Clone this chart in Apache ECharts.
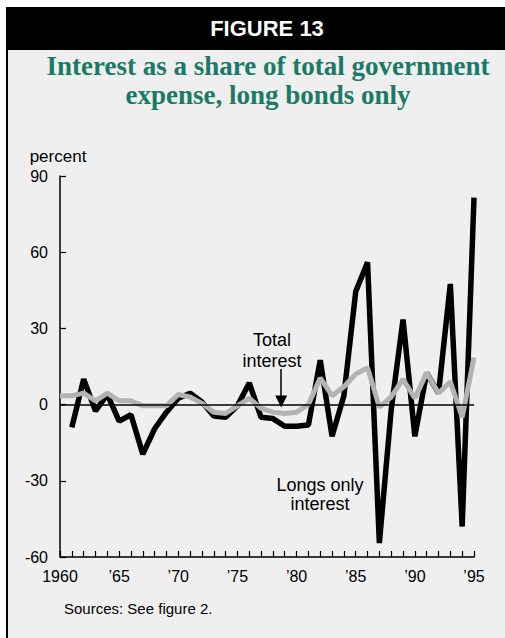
<!DOCTYPE html>
<html>
<head>
<meta charset="utf-8">
<script src="https://cdn.jsdelivr.net/npm/echarts@6/dist/echarts.min.js"></script>
<style>
html,body{margin:0;padding:0;background:#fff;}
#box{position:absolute;left:6px;top:7px;width:499px;height:631px;background:#efefef;border-left:2px solid #000;box-sizing:border-box;}
#c{position:absolute;left:0;top:0;width:505px;height:638px;}
</style>
</head>
<body>
<div id="box"></div>
<div id="c"></div>
<script>
// ---- data ----
const years = [1960,1961,1962,1963,1964,1965,1966,1967,1968,1969,
               1970,1971,1972,1973,1974,1975,1976,1977,1978,1979,
               1980,1981,1982,1983,1984,1985,1986,1987,1988,1989,
               1990,1991,1992,1993,1994,1995];
// Longs only interest (starts 1961)
const longsOnly = [null,-9,10,-2.5,4,-6.5,-4,-19.5,-9.5,-3,
                   2.5,4.5,1,-4.5,-5,-0.5,8.5,-5,-5.5,-8.5,
                   -8.5,-8,17.5,-12.5,3.5,44.5,56,-54.5,-2,33.5,
                   -12.5,12.5,4.5,47.5,-48,81.5];
// Total interest
const totalInterest = [3.5,3.5,4.5,1.5,4.5,1.5,1.5,-0.5,-0.5,-0.5,
                       4,3,0.5,-3,-3.5,-0.5,2.5,-1.5,-3,-3.5,
                       -3,0,10.5,3.5,7,12,14.5,-1,3,10,
                       2.5,12.5,4.5,9,-5,18.5];
const xTickValues = [1960,1965,1970,1975,1980,1985,1990,1995];
const xTickLabels = ['1960','\u201965','\u201970','\u201975','\u201980','\u201985','\u201990','\u201995'];
const titleLines = ['Interest as a share of total government','expense, long bonds only'];
const figureLabel = 'FIGURE 13';
const yAxisName = 'percent';
const sourceNote = 'Sources: See figure 2.';
const annTotal = ['Total','interest'];
const annLongs = ['Longs only','interest'];
const arrowX = 1978.7, arrowFrom = 14, arrowTo = 1.2;

// ---- chart ----
const chart = echarts.init(document.getElementById('c'), null, {renderer:'svg'});
const sans = '"Liberation Sans", Arial, Helvetica, sans-serif';
const pair = arr => years.map((y,i) => [y, arr[i]]);

chart.setOption({
  backgroundColor: 'transparent',
  animation: false,
  title: {
    text: titleLines.join('\n'),
    left: 268, top: 51, textAlign: 'center', padding: 0,
    textStyle: {fontFamily:'"Liberation Serif", "Times New Roman", serif', fontWeight:'bold',
                fontSize:27, color:'#1b7a66', lineHeight:29}
  },
  grid: {left:60, right:31, top:176, bottom:81, containLabel:false},
  xAxis: {
    type:'value', min:1960, max:1995, interval:1,
    axisLine:{show:true, onZero:false, lineStyle:{color:'#000', width:1.5}},
    axisTick:{show:true, inside:true, length:6, lineStyle:{color:'#000', width:1.2}},
    axisLabel:{
      color:'#000', fontSize:16, fontFamily:sans, margin:11, hideOverlap:false,
      formatter: v => { const i = xTickValues.indexOf(v); return i >= 0 ? xTickLabels[i] : ''; }
    },
    splitLine:{show:false}
  },
  yAxis: {
    type:'value', min:-60, max:90, interval:30,
    name: yAxisName, nameLocation:'end', nameGap:20,
    nameTextStyle:{color:'#000', fontSize:17, fontFamily:sans, align:'center', verticalAlign:'middle', padding:[0,0,0,-4]},
    axisLine:{show:true, lineStyle:{color:'#000', width:1.5}},
    axisTick:{show:true, inside:true, length:6, lineStyle:{color:'#000', width:1.2}},
    axisLabel:{color:'#000', fontSize:16, fontFamily:sans, margin:12},
    splitLine:{show:false}
  },
  graphic: [
    {type:'rect', shape:{x:7, y:7, width:498, height:43}, style:{fill:'#000'}},
    {type:'text', x:267, y:28, style:{text:figureLabel, fill:'#fff', align:'center', verticalAlign:'middle',
      font:'bold 22px "Liberation Sans", Arial, sans-serif'}},
    {type:'text', x:272, y:350.5, style:{text:annTotal.join('\n'), fill:'#000', align:'center', verticalAlign:'middle',
      font:'18px "Liberation Sans", Arial, sans-serif', lineHeight:20.5}},
    {type:'text', x:320, y:494.5, style:{text:annLongs.join('\n'), fill:'#000', align:'center', verticalAlign:'middle',
      font:'18px "Liberation Sans", Arial, sans-serif', lineHeight:19.5}},
    {type:'text', x:64, y:608.5, style:{text:sourceNote, fill:'#000', align:'left', verticalAlign:'middle',
      font:'15px "Liberation Sans", Arial, sans-serif'}}
  ],
  series: [
    {
      name:'Longs only interest', type:'line', data: pair(longsOnly), showSymbol:false, symbol:'none',
      connectNulls:false, z:2,
      lineStyle:{color:'#000', width:5.5},
      markLine:{
        silent:true, symbol:'none', animation:false,
        label:{show:false},
        lineStyle:{color:'#000', width:1.5, type:'solid'},
        data:[{yAxis:0}]
      }
    },
    {
      name:'Total interest', type:'line', data: pair(totalInterest), showSymbol:false, symbol:'none', z:3,
      lineStyle:{color:'#b3b3b3', width:5},
      markLine:{
        silent:true, animation:false, symbol:['none','triangle'], symbolSize:12,
        label:{show:false},
        itemStyle:{color:'#000'},
        lineStyle:{color:'#000', width:1.5, type:'solid'},
        data:[[{coord:[arrowX, arrowFrom]},{coord:[arrowX, arrowTo]}]]
      }
    }
  ]
});
</script>
</body>
</html>
